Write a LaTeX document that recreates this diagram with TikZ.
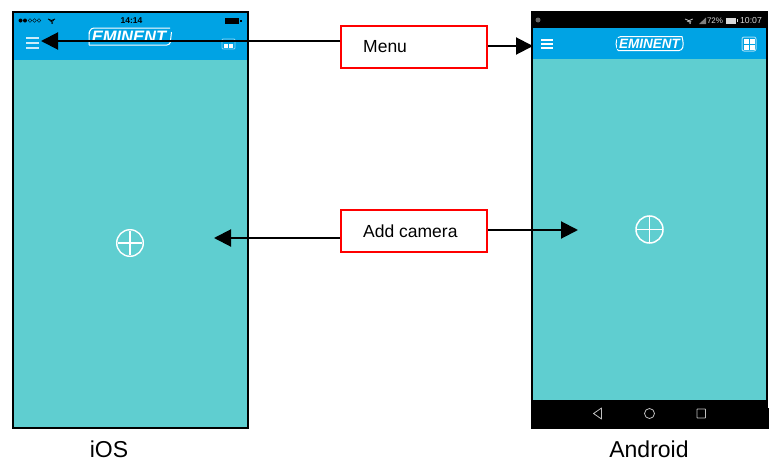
\documentclass[tikz,border=0pt]{standalone}
\usepackage{fontspec}
\setmainfont{Liberation Sans}
\usetikzlibrary{arrows.meta}
\definecolor{appblue}{RGB}{0,163,228}
\definecolor{appteal}{RGB}{95,206,208}
\definecolor{boxred}{RGB}{255,0,0}
\tikzset{
  x=1pt,y=-1pt,
  callout/.style={draw=boxred,line width=2pt,fill=white,minimum width=146pt,minimum height=42pt,inner sep=0pt},
  calltext/.style={font=\fontsize{17.5}{20}\selectfont,anchor=west,inner sep=0pt},
  pointer/.style={draw=black,line width=2pt,-{Triangle[length=17pt,width=17pt]},shorten >=0pt},
  oslabel/.style={font=\fontsize{23}{26}\selectfont,inner sep=0pt},
  logotext/.style={text=white,inner sep=0pt},
  bar/.style={font=\fontsize{8}{9}\selectfont,inner sep=0pt}
}
\begin{document}
\begin{tikzpicture}
\useasboundingbox (0,0) rectangle (777,471);
\fill[white] (0,0) rectangle (777,471);
% iOS phone
\fill[appteal] (13,13) rectangle (248,428);
\fill[appblue] (13,13) rectangle (248,60);
\draw[black,line width=2pt] (13,12) rectangle (248,428);
\node[bar,font=\bfseries\fontsize{8.5}{9}\selectfont] (iostime) at (131.5,20.5) {14:14};
\foreach \x in {20.5,25}{\fill[black] (\x,20.5) circle (2);}
\foreach \x in {30,34.5,39}{\draw[black,line width=.4pt] (\x,20.5) circle (1.8);}
\draw[black,line width=.9pt] (48,19) arc[start angle=-135,end angle=-45,radius=5,y radius=-5];
\draw[black,line width=.9pt] (49.5,20.5) arc[start angle=-135,end angle=-45,radius=3,y radius=-3];
\fill[black] (52,23) circle (1);
\fill[black] (225,17.5) rectangle (239,23.5);
\fill[black] (240,19.5) rectangle (241.5,21.5);
\foreach \y in {38,43,48}{\draw[white,opacity=.8,line width=1.2pt] (26,\y) -- (39,\y);}
\draw[white,line width=1pt,rounded corners=3pt] (89,45) -- (170,45) -- (171.5,32);
\draw[white,line width=1pt,rounded corners=3pt] (89,45) -- (89,33) -- (91,28) -- (170,28);
\node[logotext,font=\bfseries\itshape\fontsize{16.5}{18}\selectfont] (ioslogo) at (129,36.5) {EMINENT};
\draw[white,opacity=.55,line width=.8pt,rounded corners=1pt] (222,39) rectangle (235,49);
\fill[white] (224,43.5) rectangle (228,47.5);
\fill[white] (229,43.5) rectangle (233,47.5);
\draw[white,line width=1.4pt] (130,243) circle (13.3);
\draw[white,line width=1.8pt] (118,243) -- (142,243) (130,231) -- (130,255);
% Android phone
\fill[black] (531,11) rectangle (768,408);
\fill[black] (531,408) rectangle (769,429);
\fill[appteal] (533,59) rectangle (766,400);
\fill[appblue] (533,28) rectangle (766,59);
\fill[black!60] (538,20) circle (2.5);
\fill[white!75!black] (690,23) circle (1);
\draw[white!75!black,line width=.8pt] (685,19) arc[start angle=-135,end angle=-45,radius=5.5,y radius=-5.5];
\draw[white!75!black,line width=.8pt] (687,21) arc[start angle=-135,end angle=-45,radius=3,y radius=-3];
\fill[white!50!black] (699,24) -- (706,24) -- (706,17.5) -- cycle;
\node[bar,text=white!85!black] (abatt) at (715,20.5) {72\%};
\fill[white!85!black] (726,17.5) rectangle (736,23.5);
\fill[white!85!black] (736.5,19) rectangle (737.5,22);
\node[bar,text=white!85!black,font=\fontsize{8.7}{10}\selectfont] (atime) at (751,20.5) {10:07};
\foreach \y in {40,44,48}{\draw[white,line width=1.5pt] (541,\y) -- (553,\y);}
\draw[white,line width=1pt,rounded corners=3pt] (618,50.5) -- (615.5,44) -- (618,36.5) -- (682,36.5);
\draw[white,line width=1pt,rounded corners=3pt] (618,50.5) -- (682,50.5) -- (683.5,44) -- (682,36.5);
\fill[appblue] (617,38) rectangle (681,49);
\node[logotext,font=\bfseries\itshape\fontsize{13.5}{15}\selectfont] (alogo) at (649.5,44) {EMINENT};
\draw[white,opacity=.6,line width=1pt,rounded corners=2pt] (742,37) rectangle (756,51);
\foreach \x/\y in {744/39,750/39,744/45,750/45}{\fill[white] (\x,\y) rectangle ++(5,5);}
\draw[white,line width=1.5pt] (649.5,229.5) circle (13.5);
\draw[white,line width=1.9pt] (636,229.5) -- (663,229.5) (649.5,216) -- (649.5,243);
\draw[white!75!black,line width=.8pt,line join=round] (601.5,408) -- (593.5,413.5) -- (601.5,419) -- cycle;
\draw[white!75!black,line width=.8pt] (649.5,413.5) circle (5);
\draw[white!75!black,line width=.9pt,rounded corners=.5pt] (697,409) rectangle (705.5,418);
% Callouts
\node[callout] (menu) at (414,47) {};
\node[calltext] (menutext) at (363,47) {Menu};
\node[callout] (add) at (414,231) {};
\node[calltext] (addtext) at (363,231) {Add camera};
% Connector ends
\coordinate (menuios) at (41,41);
\coordinate (menuand) at (533,46);
\coordinate (addios) at (214,238);
\coordinate (addand) at (578,230);
\draw[pointer] (menu.west |- menuios) -- (menuios);
\draw[pointer] (menu.east |- menuand) -- (menuand);
\draw[pointer] (add.west |- addios) -- (addios);
\draw[pointer] (add.east |- addand) -- (addand);
% Labels
\node[oslabel] (ios) at (109,449.5) {iOS};
\node[oslabel] (android) at (649,449.5) {Android};
\end{tikzpicture}
\end{document}
